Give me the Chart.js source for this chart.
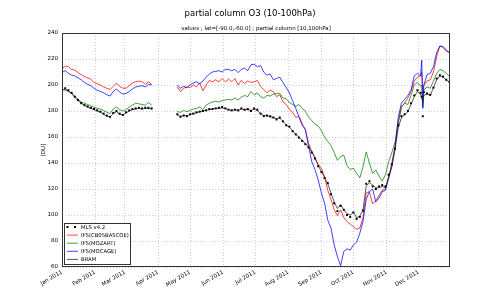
<!DOCTYPE html>
<html>
<head>
<meta charset="utf-8">
<script src="https://cdn.jsdelivr.net/npm/chart.js@4.4.0/dist/chart.umd.min.js"></script>
<style>
  body { margin: 0; background: #ffffff; }
  canvas { display: block; }
</style>
</head>
<body>
<canvas id="o3Chart" width="500" height="288"></canvas>
<script>
// Data (day of year 2011, null = missing)
const days = [0,3,6,9,12,15,18,21,24,27,30,33,36,39,42,45,48,51,54,57,60,63,66,69,72,75,78,81,84,
  96,
  108,111,114,117,120,123,126,129,132,135,
  138,141,144,147,150,153,156,159,162,165,
  168,171,174,177,180,183,186,189,192,195,
  198,201,204,207,210,213,216,219,222,225,
  228,231,234,237,240,243,246,249,252,255,
  258,261,264,267,270,273,276,279,282,285,
  288,291,294,297,300,303,306,309,312,315,
  318,321,324,327,330,333,336,337,338,339,342,345,
  348,351,354,357,360,363];

const mls = [196.5,197.5,196,194,191,188.5,186,184.5,183.5,182.5,181.5,180.5,179.5,178,176.5,175.5,178.5,180,178,177,179,180.5,181.5,182,182.5,182,182.5,182.5,182,
  null,
  177.5,175.5,176.5,176,177.5,178,179,179.5,180,180.5,
  181.5,181.5,182,182.5,183,182,181,180.5,181,180.5,
  182,181,181.5,180,182,181,178,176,176.5,176,
  175,173.5,175,172,169,168,164.5,162,159.5,157,
  154.5,152,148,143.5,137.5,133,128.5,124.5,116,109,
  103,107,104,100,98.5,102,97,98.5,103.5,124,
  126,122,120,122,123,122,131,139,151,169,
  176,177.5,180,186,192,196,194,191,176,194.5,193.5,192.5,
  198,205,207.5,206.5,204,202.5];

const cb05 = [212.5,214.5,214,212,211.5,209.5,208,206.5,205.5,204.5,202,201,200,198.5,197.5,196.5,199,201.5,199,197.5,197.5,199.5,201.5,202.5,203,202.5,200.5,202.5,200.5,
  null,
  198.5,195,197.5,198.5,198,200,198.5,201.5,195.5,200,
  203.5,202.5,204,202.5,205,202.5,204.5,202.5,205,200,
  203.5,201,203,202,202.5,203.5,199,196.5,194,196,
  195,191,192.5,187,185,181.5,179,175,176,170.5,
  165.5,155,149,144,139,136,129,119,112,104,
  99.5,104,98,95,93,91,89,90,98,117,
  118,108.5,111,115,119,120,129,140,153,171,
  183,186,190,195,203,206,207,210,196,200,203,204,
  210,222,230,229,226,225];

const mozart = [196.5,196,195,193.5,191.5,189,187,186,185,184,182.8,182,181.5,180.5,179,178,181.5,183,181,180,181,183,184.5,186,185.5,185,184.5,186.5,184.5,
  null,
  179.5,179,180.5,179.5,180.5,181.5,182,183,181,184.5,
  186,187,187.5,187,188,188.5,189,188.5,190,188.5,
  190.5,192,191,195,192.5,194,191,190,192,191.5,
  193,193.5,193.5,190,189.5,186.5,185,183.5,185,182,
  180,175.5,172.5,170,168.5,165,160,156.5,153.5,148,
  142,145,146,138,135,136,132,128.5,137,148.5,
  140,132,134.5,130,126,131,141,148,156,171,
  183,186,185,192,200,202,199,200,183,196,198.5,197.5,
  203,209,212,211,209,206.5];

const mocage = [209.5,211,209,207.5,207,205.5,204,202,200.5,199.5,197.5,196,195,194,192.5,191.5,195,197,194.5,193,193.5,195,197,198.5,199,199.5,198.5,200.5,200,
  null,
  200,197.5,199,198,200,201.5,202.5,201,203,206,
  208.5,210,210.5,211,210,212,212,211,212,209.5,
  212,213,211,215.5,216,214,215,210,207.5,208.5,
  204,205,206,202,198,194,188,182,175.5,169,
  166,153,141,135,127,117,109,96,90,77,
  68,61,72,74,73,77,79,86,95,112,
  118,120,110,113,118,119,128,137,152,175,
  186,189,192,196,207,209,207,219,182,200,208,209,
  214,225,230,229.5,227,224.5];

const bram = [196,197,195.5,193.5,190.5,188,186,184.5,183,182,181,180,179,177.5,176,175.5,178,179.5,177.5,177,178.5,180,181,181.5,182,181.5,182,182,181.5,
  null,
  177,176,176.5,176.5,177,178,178.5,179.5,180,180.5,
  181,181.5,182,182,182.5,182,181,180.5,181,180.5,
  181.5,181,181,180.5,181.5,180.5,178,176.5,176.5,175.5,
  175,174,174.5,172,169.5,167.5,165,162,160,157.5,
  155,152,148.5,144,138,133.5,129,124,117,110,
  105,108,104,101,100,102,98,99,104,122,
  125,123,121,121,122,121,129,138,150,167,
  175,177,179.5,185,191,195,193,190,186,192,193,192,
  198,204,207,206,204,202];

const monthStarts = [0,31,59,90,120,151,181,212,243,273,304,334];
const monthLabels = ["Jan 2011","Feb 2011","Mar 2011","Apr 2011","May 2011","Jun 2011",
  "Jul 2011","Aug 2011","Sep 2011","Oct 2011","Nov 2011","Dec 2011"];
const yTicks = [60,80,100,120,140,160,180,200,220,240];

const seriesNames = ["MLS v4.2","IFS(CB05BASCOE)","IFS(MOZART)","IFS(MOCAGE)","BRAM"];
const seriesColors = ["#000000","#ff0000","#008000","#0000ff","#222222"];

function toPoints(values) {
  return days.map((d, i) => ({ x: d, y: values[i] }));
}

const FONT = "'DejaVu Sans', sans-serif";

// Titles, frame, y label and legend
const decorations = {
  id: "decorations",
  afterDraw(chart) {
    const ctx = chart.ctx;
    const a = chart.chartArea;
    ctx.save();

    ctx.strokeStyle = "#333333";
    ctx.lineWidth = 1;
    ctx.strokeRect(Math.round(a.left) + 0.5, Math.round(a.top) + 0.5,
      Math.round(a.right - a.left) - 1, Math.round(a.bottom - a.top) - 1);

    ctx.fillStyle = "#000000";
    ctx.textAlign = "center";
    ctx.textBaseline = "middle";
    ctx.font = "8.5px " + FONT;
    ctx.fillText("partial column O3 (10-100hPa)", 250, 14);
    ctx.font = "5.5px " + FONT;
    ctx.fillText("values ; lat=[-90.0,-60.0] ; partial column [10,100hPa]", (a.left + a.right) / 2, 28.5);

    ctx.save();
    ctx.translate(44, (a.top + a.bottom) / 2);
    ctx.rotate(-Math.PI / 2);
    ctx.font = "5.5px " + FONT;
    ctx.fillText("[DU]", 0, 0);
    ctx.restore();

    // legend box
    const lx = 64, ly = 223, lw = 66, lh = 41;
    ctx.fillStyle = "#ffffff";
    ctx.fillRect(lx, ly, lw, lh);
    ctx.strokeStyle = "#333333";
    ctx.lineWidth = 1;
    ctx.strokeRect(lx + 0.5, ly + 0.5, lw, lh);
    ctx.font = "5.3px " + FONT;
    ctx.textAlign = "left";
    seriesNames.forEach((name, i) => {
      const y = 227 + i * 8.1;
      if (i === 0) {
        ctx.fillStyle = "#000000";
        ctx.fillRect(66.5, y - 1, 2, 2);
        ctx.fillRect(74, y - 1, 2, 2);
      } else {
        ctx.strokeStyle = seriesColors[i];
        ctx.lineWidth = 0.75;
        ctx.beginPath();
        ctx.moveTo(67, y);
        ctx.lineTo(78, y);
        ctx.stroke();
      }
      ctx.fillStyle = "#000000";
      ctx.fillText(name, 81, y + 0.3);
    });
    ctx.restore();
  }
};

const lineSet = (i, values, order) => ({
  label: seriesNames[i],
  data: toPoints(values),
  borderColor: seriesColors[i],
  borderWidth: 0.75,
  pointRadius: 0,
  fill: false,
  tension: 0,
  order: order,
});

const ctx = document.getElementById("o3Chart").getContext("2d");
const o3Chart = new Chart(ctx, {
  type: "line",
  data: {
    datasets: [
      {
        label: seriesNames[0],
        data: toPoints(mls),
        showLine: false,
        pointRadius: 1.4,
        pointStyle: "rect",
        pointBackgroundColor: "#000000",
        pointBorderWidth: 0,
        order: 0,
      },
      lineSet(4, bram, 1),
      lineSet(3, mocage, 2),
      lineSet(2, mozart, 3),
      lineSet(1, cb05, 4),
    ],
  },
  options: {
    responsive: false,
    animation: false,
    devicePixelRatio: 1,
    layout: { padding: { left: 0, right: 50, top: 33, bottom: 0 } },
    plugins: {
      legend: { display: false },
      tooltip: { enabled: false },
      title: { display: false },
    },
    scales: {
      x: {
        type: "linear",
        min: 0,
        max: 363.5,
        afterBuildTicks: (scale) => {
          scale.ticks = monthStarts.map((v) => ({ value: v }));
        },
        afterFit: (scale) => { scale.height = 21; },
        grid: { color: "#b8b8b8", lineWidth: 0.7, drawTicks: false },
        border: { display: false, dash: [1, 2] },
        ticks: {
          autoSkip: false,
          minRotation: 30,
          maxRotation: 30,
          padding: 2,
          color: "#000000",
          font: { size: 5.5, family: FONT },
          callback: (value, index) => monthLabels[index],
        },
      },
      y: {
        min: 60,
        max: 240,
        afterBuildTicks: (scale) => {
          scale.ticks = yTicks.map((v) => ({ value: v }));
        },
        afterFit: (scale) => { scale.width = 62; },
        grid: { color: "#b8b8b8", lineWidth: 0.7, drawTicks: false },
        border: { display: false, dash: [1, 2] },
        ticks: {
          padding: 4,
          color: "#000000",
          font: { size: 5.5, family: FONT },
        },
      },
    },
  },
  plugins: [decorations],
});
</script>
</body>
</html>
